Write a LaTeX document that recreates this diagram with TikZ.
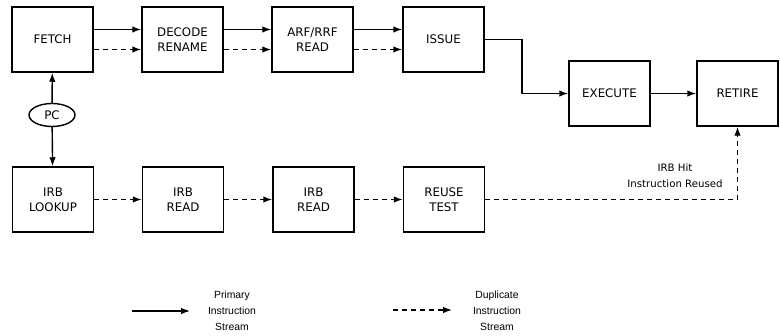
\documentclass[tikz,border=0pt]{standalone}
\usepackage{fontspec}
\setmainfont{DejaVu Sans}
\newfontfamily\legendfont{Liberation Sans}
\usetikzlibrary{arrows.meta,shapes.geometric}
\begin{document}
\begin{tikzpicture}[x=1pt,y=-1pt,
  stage/.style={draw,line width=1.5pt,minimum width=81pt,minimum height=65pt,
    align=center,font=\fontsize{11.8}{15}\selectfont,inner sep=0pt},
  flow/.style={line width=1.4pt,-{Latex[length=9pt,width=6.5pt]}},
  dup/.style={flow,dash pattern=on 5pt off 4pt},
  note/.style={align=center,font=\fontsize{10.2}{16}\selectfont}]
\useasboundingbox (0,0) rectangle (780,336);
% upper row: primary pipeline
\node[stage] (fetch)   at (52.5,39.5)  {FETCH};
\node[stage] (decode)  at (182.5,39.5) {DECODE\\RENAME};
\node[stage] (arf)     at (312.5,39.5) {ARF/RRF\\READ};
\node[stage] (issue)   at (443.5,39.5) {ISSUE};
\node[stage] (execute) at (609.5,93.5) {EXECUTE};
\node[stage] (retire)  at (737.5,93.5) {RETIRE};
% lower row: instruction reuse buffer path
\node[stage] (lookup)  at (53,199.5)  {IRB\\LOOKUP};
\node[stage] (irbA)    at (183,199.5) {IRB\\READ};
\node[stage] (irbB)    at (313.5,199.5) {IRB\\READ};
\node[stage] (reuse)   at (444,199.5) {REUSE\\TEST};
% program counter
\node[draw,ellipse,line width=1.4pt,minimum width=46pt,minimum height=23pt,inner sep=0pt,
  font=\fontsize{11.8}{12}\selectfont] (pc) at (52,115) {PC};
\draw[flow] (pc) -- (fetch);
\draw[flow] (pc) -- (lookup);
% primary stream arrows (upper lane)
\draw[flow] ([yshift=10pt]fetch.east) -- ([yshift=10pt]decode.west);
\draw[flow] ([yshift=10pt]decode.east) -- ([yshift=10pt]arf.west);
\draw[flow] ([yshift=10pt]arf.east) -- ([yshift=10pt]issue.west);
% duplicate stream arrows (lower lane)
\draw[dup] ([yshift=-10pt]fetch.east) -- ([yshift=-10pt]decode.west);
\draw[dup] ([yshift=-10pt]decode.east) -- ([yshift=-10pt]arf.west);
\draw[dup] ([yshift=-10pt]arf.east) -- ([yshift=-10pt]issue.west);
\draw[flow] (issue.east) -| (522,93.5) -- (execute.west);
\draw[flow] (execute) -- (retire);
\draw[dup] (lookup) -- (irbA);
\draw[dup] (irbA) -- (irbB);
\draw[dup] (irbB) -- (reuse);
\coordinate (hitcorner) at (retire.south |- reuse.east);
\draw[dup] (reuse.east) -- (hitcorner) -- (retire.south);
\node[note] (hit) at (675,176) {IRB Hit\\Instruction Reused};
% legend
\coordinate (ps) at (132,311);
\coordinate (pe) at (190,311);
\draw[flow,line width=1.2pt] (ps) -- (pe);
\node[align=center,font=\legendfont\fontsize{10.4}{16}\selectfont] (plabel) at (232,311) {Primary\\Instruction\\Stream};
\coordinate (ds) at (393,310);
\coordinate (de) at (452,310);
\draw[dup,line width=1.2pt] (ds) -- (de);
\node[align=center,font=\legendfont\fontsize{10.4}{16}\selectfont] (dlabel) at (497,311) {Duplicate\\Instruction\\Stream};
\end{tikzpicture}
\end{document}
